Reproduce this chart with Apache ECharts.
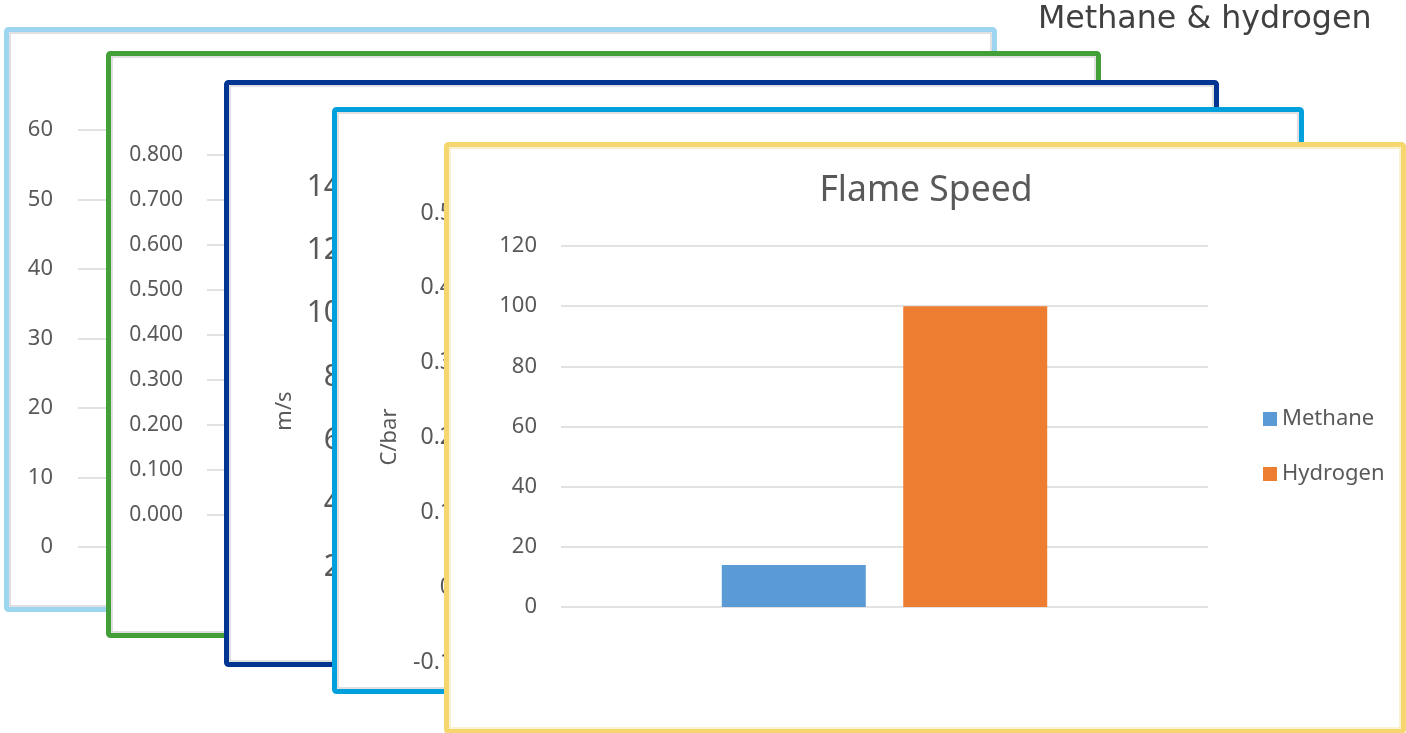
<!DOCTYPE html>
<html><head><meta charset="utf-8">
<script src="https://cdn.jsdelivr.net/npm/echarts@6/dist/echarts.min.js"></script>
<style>html,body{margin:0;padding:0;background:#fff}#c{width:1406px;height:733px}</style>
</head><body><div id="c"></div>
<script>
// ---- data ----
const categories = ['Flame Speed'];
const seriesNames = ['Methane', 'Hydrogen'];
const methaneValues = [14];
const hydrogenValues = [100];
const frontTicks = [0, 20, 40, 60, 80, 100, 120];
const card1Ticks = [0, 10, 20, 30, 40, 50, 60];
const card2Ticks = [0, 0.1, 0.2, 0.3, 0.4, 0.5, 0.6, 0.7, 0.8];
const card3Ticks = [2, 4, 6, 8, 10, 12, 14];
const card4Ticks = [-0.1, 0, 0.1, 0.2, 0.3, 0.4, 0.5];
const pageTitle = 'Methane & hydrogen';
const chartTitle = 'Flame Speed';
const card3AxisName = 'm/s';
const card4AxisName = 'C/bar';

// ---- layout ----
const FONT = 'Noto Sans';
const cardFrames = [
  {x0: 4,   y0: 27,  x1: 997,  y1: 612, color: '#9DD6F0', inner: '#d6d6d6'},
  {x0: 106, y0: 51,  x1: 1101, y1: 638, color: '#43A038', inner: '#d6d6d6'},
  {x0: 224, y0: 80,  x1: 1219, y1: 667, color: '#003591', inner: '#d6d6d6'},
  {x0: 332, y0: 107, x1: 1304, y1: 694, color: '#00A0DC', inner: '#d6d6d6'},
  {x0: 444, y0: 142, x1: 1406, y1: 734, color: '#F6D66F', inner: '#f9edc4'}
];

const graphic = [];
cardFrames.forEach((c, i) => {
  const z = 10 * (i + 1);
  graphic.push({type: 'rect', z: z, silent: true,
    shape: {x: c.x0 + 2.5, y: c.y0 + 2.5, width: c.x1 - c.x0 - 5, height: c.y1 - c.y0 - 5, r: 2},
    style: {fill: '#ffffff', stroke: c.color, lineWidth: 5}});
  graphic.push({type: 'rect', z: z + 0.5, silent: true,
    shape: {x: c.x0 + 6, y: c.y0 + 6, width: c.x1 - c.x0 - 12, height: c.y1 - c.y0 - 12},
    style: {fill: 'none', stroke: c.inner, lineWidth: 1.5}});
});
graphic.push({type: 'text', z: 31, x: 285, y: 411, rotation: Math.PI / 2,
  style: {text: card3AxisName, fill: '#595959', font: '22px "' + FONT + '"', textAlign: 'center', textVerticalAlign: 'middle'}});
graphic.push({type: 'text', z: 41, x: 390, y: 437, rotation: Math.PI / 2,
  style: {text: card4AxisName, fill: '#595959', font: '22px "' + FONT + '"', textAlign: 'center', textVerticalAlign: 'middle'}});
graphic.push({type: 'text', z: 60, x: 1038, y: 20,
  style: {text: pageTitle, fill: '#404040', font: '31.7px "DejaVu Sans"', textAlign: 'left', textVerticalAlign: 'middle'}});

function range(t) { return {min: t[0], max: t[t.length - 1], interval: +(t[1] - t[0]).toFixed(6)}; }

function backAxis(ticks, gridIndex, z, fontSize, margin, showSplit, fmt) {
  const r = range(ticks);
  return {type: 'value', gridIndex: gridIndex, z: z, min: r.min, max: r.max, interval: r.interval,
    axisLine: {show: false}, axisTick: {show: false},
    axisLabel: {color: '#595959', fontSize: fontSize, fontFamily: FONT, margin: margin, formatter: fmt},
    splitLine: {show: showSplit, lineStyle: {color: '#d9d9d9', width: 1.5}}};
}

const fr = range(frontTicks);
const option = {
  animation: false,
  textStyle: {fontFamily: FONT},
  graphic: graphic,
  title: {text: chartTitle, left: 921, top: 168, textAlign: 'center', z: 55,
    textStyle: {color: '#595959', fontSize: 35.5, fontWeight: 'normal', fontFamily: FONT}},
  legend: {data: seriesNames, orient: 'vertical', left: 1258, top: 403, z: 55,
    itemWidth: 14, itemHeight: 14, itemGap: 33, icon: 'rect', itemTextGap: 7,
    textStyle: {color: '#595959', fontSize: 22, lineHeight: 21, fontFamily: FONT}},
  grid: [
    {left: 78,  top: 130, width: 120, height: 417},
    {left: 207, top: 155, width: 100, height: 360},
    {left: 361, top: 187, width: 100, height: 380},
    {left: 473, top: 213, width: 100, height: 449},
    {left: 561, top: 246, width: 647, height: 361}
  ],
  xAxis: [
    {type: 'value', gridIndex: 0, show: false, min: 0, max: 1},
    {type: 'value', gridIndex: 1, show: false, min: 0, max: 1},
    {type: 'value', gridIndex: 2, show: false, min: 0, max: 1},
    {type: 'value', gridIndex: 3, show: false, min: 0, max: 1},
    {type: 'category', gridIndex: 4, data: categories, z: 51,
      axisLine: {show: false}, axisTick: {show: false}, axisLabel: {show: false}}
  ],
  yAxis: [
    backAxis(card1Ticks, 0, 11, 22, 25, true),
    backAxis(card2Ticks, 1, 21, 21, 24, true, v => v.toFixed(3)),
    backAxis(card3Ticks, 2, 31, 30, 20, false),
    backAxis(card4Ticks, 3, 41, 23, 20, false),
    {type: 'value', gridIndex: 4, z: 51, min: fr.min, max: fr.max, interval: fr.interval,
      axisLine: {show: false}, axisTick: {show: false},
      axisLabel: {color: '#595959', fontSize: 22, fontFamily: FONT, margin: 24},
      splitLine: {lineStyle: {color: '#d9d9d9', width: 1.5}}}
  ],
  series: [
    {name: seriesNames[0], type: 'bar', xAxisIndex: 4, yAxisIndex: 4, z: 52,
      data: methaneValues, barWidth: 144, barGap: '26%', itemStyle: {color: '#5B9BD5'}},
    {name: seriesNames[1], type: 'bar', xAxisIndex: 4, yAxisIndex: 4, z: 52,
      data: hydrogenValues, barWidth: 144, barGap: '26%', itemStyle: {color: '#ED7D31'}}
  ]
};
const chart = echarts.init(document.getElementById('c'), null, {renderer: 'canvas'});
chart.setOption(option);
</script>
</body></html>
